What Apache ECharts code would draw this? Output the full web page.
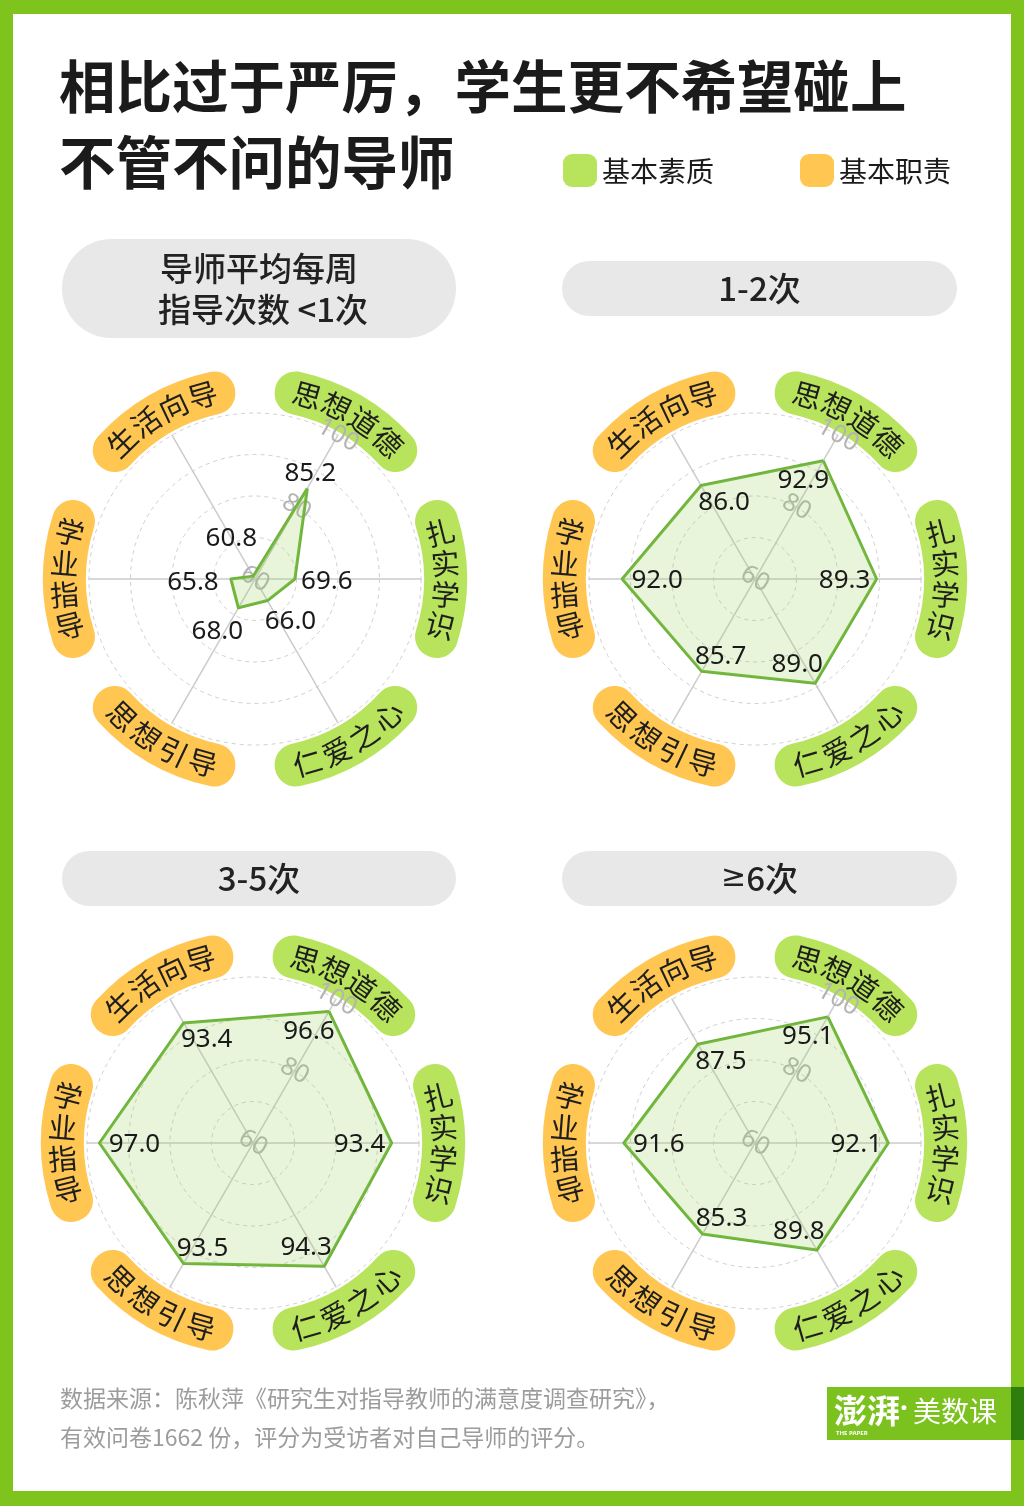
<!DOCTYPE html>
<html><head><meta charset="utf-8">
<script src="https://cdn.jsdelivr.net/npm/echarts@6/dist/echarts.min.js"></script>
<style>html,body{margin:0;padding:0;background:#fff}#c{width:1024px;height:1506px}</style>
</head><body><div id="c"></div>
<script>
// ---------- data ----------
const indicators = ['思想道德', '生活向导', '学业指导', '思想引导', '仁爱之心', '扎实学识'];
const indicatorGroup = ['基本素质', '基本职责', '基本职责', '基本职责', '基本素质', '基本素质'];
const legendNames = ['基本素质', '基本职责'];
const panelTitles = ['导师平均每周\n指导次数 <1次', '1-2次', '3-5次', '≥6次'];
const valuesLt1 = [85.2, 60.8, 65.8, 68.0, 66.0, 69.6];
const values1to2 = [92.9, 86.0, 92.0, 85.7, 89.0, 89.3];
const values3to5 = [96.6, 93.4, 97.0, 93.5, 94.3, 93.4];
const values6plus = [95.1, 87.5, 91.6, 85.3, 89.8, 92.1];
const axisMin = 60, axisMax = 100;
const tickLabels = ['60', '80', '100'];
const titleLines = ['相比过于严厉，学生更不希望碰上', '不管不问的导师'];
const sourceLines = ['数据来源：陈秋萍《研究生对指导教师的满意度调查研究》，', '有效问卷1662 份，评分为受访者对自己导师的评分。'];

// ---------- style ----------
const GREEN = '#B8E35C', ORANGE = '#FFC652', FRAME = '#7FC41C';
const CJK = '"Noto Sans CJK SC", "Noto Sans", sans-serif';
const NUM = '"Noto Sans", "Noto Sans CJK SC", sans-serif';
const OFF_IN = [[-20, 20], [23, 17], [35, 2], [19, -15], [-18, -19], [-32, 2]];
const OFF_OUT = [[3, -15], [-22, -38], [-38, 4], [-21, 24], [23, 21], [32, 3]];
const R = 166, START = 60;

const panels = [
  { vals: valuesLt1, center: [255, 579], header: [62, 239, 394, 99], offs: OFF_OUT },
  { vals: values1to2, center: [755, 579], header: [562, 261, 395, 55], offs: OFF_IN },
  { vals: values3to5, center: [253, 1143], header: [62, 851, 394, 55], offs: OFF_IN },
  { vals: values6plus, center: [755, 1143], header: [562, 851, 395, 55], offs: OFF_IN }
];

const radars = panels.map(p => ({
  center: p.center, radius: R, startAngle: START, splitNumber: 4, shape: 'circle', z: 2,
  indicator: indicators.map((n, i) => Object.assign({ name: n, min: axisMin, max: axisMax },
    i === 0 ? { axisLabel: {
      show: true, rotate: -30, margin: 0, align: 'center', verticalAlign: 'middle',
      padding: [12, 0, 0, 0],
      color: '#b4b4b4', fontSize: 25, fontFamily: NUM,
      formatter: v => tickLabels.indexOf(String(v)) >= 0 ? String(v) : ''
    } } : {})),
  axisName: { show: false },
  splitLine: { lineStyle: { color: '#cfcfcf', type: [4, 4], width: 1 } },
  splitArea: { show: false },
  axisLine: { lineStyle: { color: '#cccccc', width: 1.5 } },
  axisTick: { show: false },
  axisLabel: { show: false }
}));

const series = [];
panels.forEach((p, pi) => {
  series.push({
    type: 'radar', radarIndex: pi, silent: true, symbol: 'none', z: 3,
    data: [{ value: p.vals }],
    lineStyle: { color: '#6DB33A', width: 3 },
    areaStyle: { color: 'rgba(156,212,90,0.32)' }
  });
  indicators.forEach((_, k) => {
    series.push({
      type: 'radar', radarIndex: pi, silent: true, z: 5,
      symbol: 'circle', symbolSize: 1,
      itemStyle: { color: 'rgba(0,0,0,0)' },
      lineStyle: { opacity: 0, width: 0 },
      data: [{ value: p.vals }],
      label: {
        show: true, position: 'inside', offset: p.offs[k],
        fontSize: 26, color: '#1a1a1a', fontFamily: NUM,
        formatter: params => params.dimensionIndex === k ? Number(params.value).toFixed(1) : ''
      }
    });
  });
});

// ---------- decorations ----------
const g = [];
// frame
g.push({ type: 'rect', shape: { x: 0, y: 0, width: 1024, height: 14 }, style: { fill: FRAME } });
g.push({ type: 'rect', shape: { x: 0, y: 1491, width: 1024, height: 15 }, style: { fill: FRAME } });
g.push({ type: 'rect', shape: { x: 0, y: 0, width: 13, height: 1506 }, style: { fill: FRAME } });
g.push({ type: 'rect', shape: { x: 1011, y: 0, width: 13, height: 1506 }, style: { fill: FRAME } });
// title
titleLines.forEach((t, i) => g.push({ type: 'text', x: 59, y: 87 + i * 76,
  style: { text: t, fontSize: 56.5, fontWeight: 'bold', fill: '#1b1b1b', fontFamily: CJK, align: 'left', verticalAlign: 'middle' } }));
// legend
[[563, GREEN], [800, ORANGE]].forEach((l, i) => {
  g.push({ type: 'rect', shape: { x: l[0], y: 154, width: 34, height: 33, r: 9 }, style: { fill: l[1] } });
  g.push({ type: 'text', x: l[0] + 39, y: 171, style: { text: legendNames[i], fontSize: 28, fill: '#1b1b1b', fontFamily: CJK, align: 'left', verticalAlign: 'middle' } });
});
// panels
panels.forEach((p, pi) => {
  const [hx, hy, hw, hh] = p.header;
  g.push({ type: 'rect', shape: { x: hx, y: hy, width: hw, height: hh, r: hh / 2 }, style: { fill: '#E8E8E8' } });
  const lines = panelTitles[pi].split('\n');
  lines.forEach((t, li) => {
    const rich = t.replace('≥', '{s|≥}');
    g.push({ type: 'text', x: hx + hw / 2 + (li === 1 ? 4 : 0), y: hy + hh / 2 + (li - (lines.length - 1) / 2) * 41,
      style: { text: rich, fontSize: 33, fontWeight: 500, fill: '#222', fontFamily: CJK, align: 'center', verticalAlign: 'middle',
        rich: { s: { fontFamily: '"DejaVu Sans"', fontSize: 30, fill: '#222' } } } });
  });
  const [cx, cy] = p.center;
  indicators.forEach((name, i) => {
    const ang = START + 60 * i;
    const color = indicatorGroup[i] === legendNames[0] ? GREEN : ORANGE;
    const half = 24;
    const a1 = (ang - half) * Math.PI / 180, a2 = (ang + half) * Math.PI / 180;
    g.push({ type: 'sector', z: -1, shape: { cx, cy, r0: 169, r: 212, startAngle: -a2, endAngle: -a1, clockwise: true, cornerRadius: 21 }, style: { fill: color } });
    const norm = ((ang % 360) + 360) % 360;
    const chars = name.split(''), n = chars.length, step = 9.4, TR = 191;
    chars.forEach((ch, ci) => {
      const k = ci - (n - 1) / 2;
      let theta, rot;
      if (norm === 0) { theta = ang - k * step; rot = theta; }
      else if (norm === 180) { theta = ang + k * step; rot = theta - 180; }
      else if (norm < 180) { theta = ang - k * step; rot = theta - 90; }
      else { theta = ang + k * step; rot = theta + 90; }
      const t = theta * Math.PI / 180;
      g.push({ type: 'text', x: cx + TR * Math.cos(t), y: cy - TR * Math.sin(t), rotation: rot * Math.PI / 180,
        style: { text: ch, fontSize: 29, fill: '#1e1e1e', fontFamily: CJK, align: 'center', verticalAlign: 'middle' } });
    });
  });
});
// source
sourceLines.forEach((t, i) => g.push({ type: 'text', x: 60, y: 1398 + i * 39,
  style: { text: t, fontSize: 23, fill: '#9c9c9c', fontFamily: CJK, align: 'left', verticalAlign: 'middle' } }));
// logo
g.push({ type: 'rect', shape: { x: 827, y: 1387, width: 184, height: 53 }, style: { fill: '#7CC21E' } });
g.push({ type: 'rect', shape: { x: 1011, y: 1387, width: 13, height: 53 }, style: { fill: '#2F7D0C' } });
g.push({ type: 'text', x: 834, y: 1410, style: { text: '澎湃', fontSize: 33, fontWeight: 'bold', fill: '#fff', fontFamily: CJK, align: 'left', verticalAlign: 'middle' } });
g.push({ type: 'text', x: 904, y: 1410, style: { text: '·', fontSize: 28, fontWeight: 'bold', fill: '#fff', fontFamily: NUM, align: 'center', verticalAlign: 'middle' } });
g.push({ type: 'text', x: 913, y: 1411, style: { text: '美数课', fontSize: 28, fill: '#fff', fontFamily: CJK, align: 'left', verticalAlign: 'middle' } });
g.push({ type: 'text', x: 836, y: 1433, style: { text: 'THE PAPER', fontSize: 6, fontWeight: 'bold', fill: '#fff', fontFamily: NUM, align: 'left', verticalAlign: 'middle' } });

const chart = echarts.init(document.getElementById('c'), null, { renderer: 'canvas' });
chart.setOption({
  backgroundColor: '#ffffff',
  animation: false,
  textStyle: { fontFamily: CJK },
  radar: radars,
  series: series,
  graphic: g
});
</script></body></html>
